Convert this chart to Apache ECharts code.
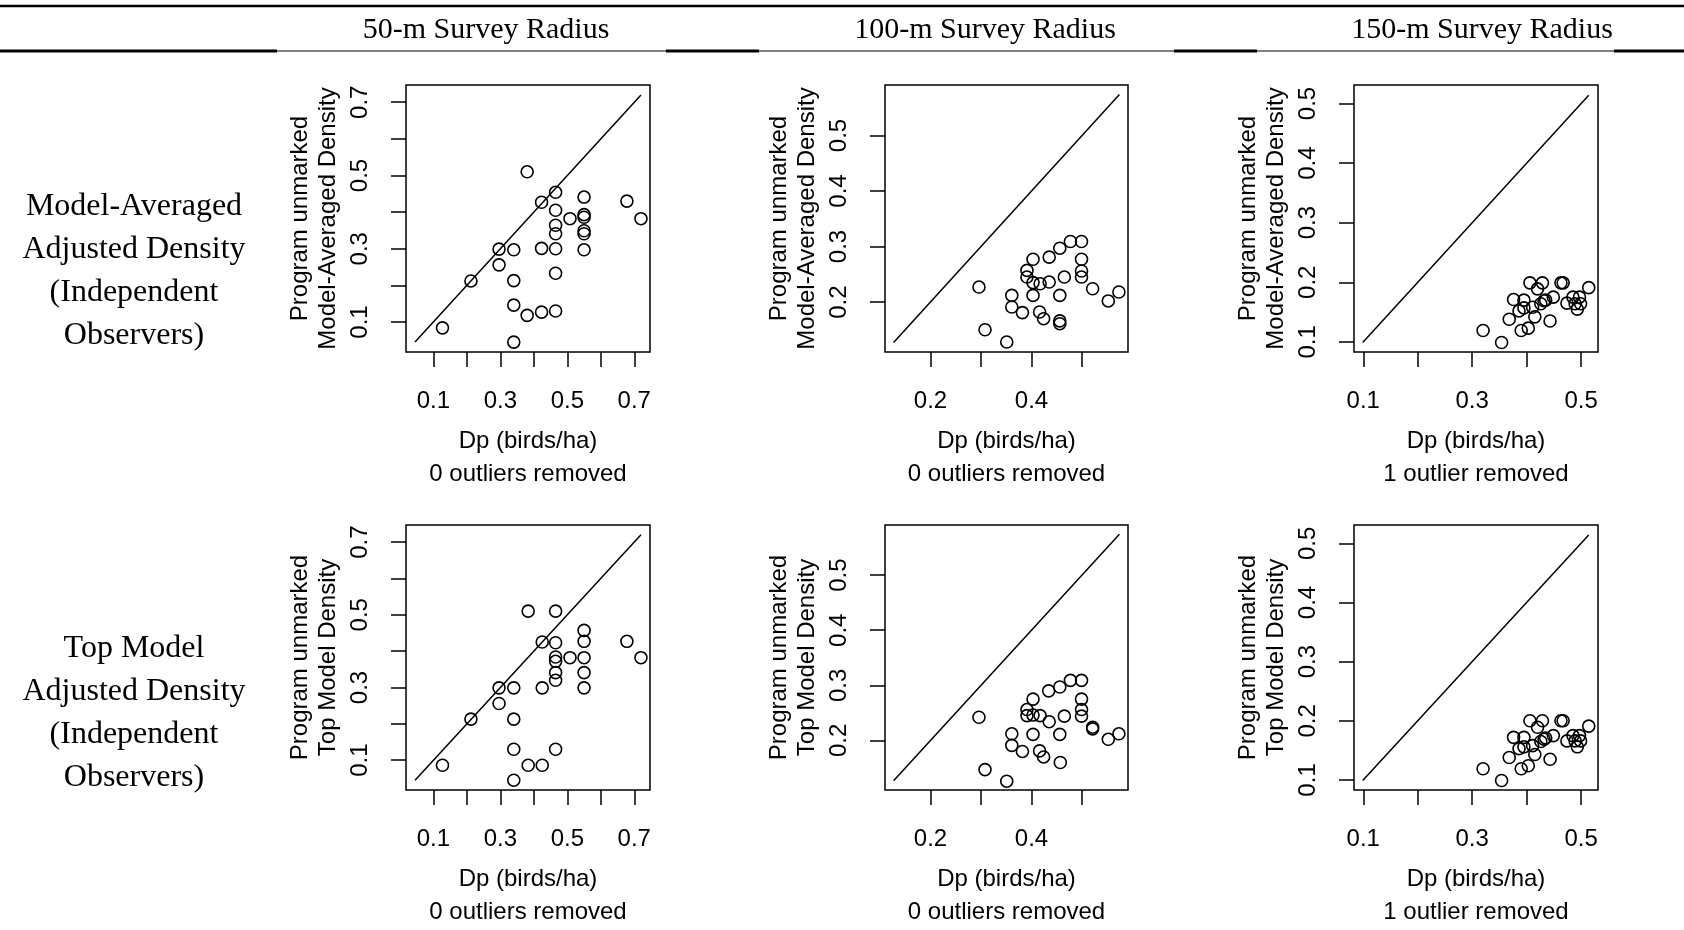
<!DOCTYPE html>
<html>
<head>
<meta charset="utf-8">
<script src="https://cdn.jsdelivr.net/npm/echarts@6/dist/echarts.min.js"></script>
<style>
html,body{margin:0;padding:0;background:#fff;}
#chart{width:1684px;height:930px;}
</style>
</head>
<body>
<div id="chart"></div>
<script>
// ---------- texts ----------
var columnTitles = ['50-m Survey Radius', '100-m Survey Radius', '150-m Survey Radius'];
var rowTitles = ['Model-Averaged\nAdjusted Density\n(Independent\nObservers)', 'Top Model\nAdjusted Density\n(Independent\nObservers)'];
var yTitles = ['Program unmarked\nModel-Averaged Density', 'Program unmarked\nTop Model Density'];
var xTitle = 'Dp (birds/ha)';
var outlierNotes = ['0 outliers removed', '0 outliers removed', '1 outlier removed'];

// ---------- axis ranges, ticks and tick labels per column ----------
var axisRange50 = [0.018, 0.747];
var axisRange100 = [0.110, 0.591];
var axisRange150 = [0.083, 0.531];
var ticks50 = [0.1, 0.2, 0.3, 0.4, 0.5, 0.6, 0.7];
var ticks100 = [0.2, 0.3, 0.4, 0.5];
var ticks150 = [0.1, 0.2, 0.3, 0.4, 0.5];
var xLabels50 = [0.1, 0.3, 0.5, 0.7];
var yLabels50 = [0.1, 0.3, 0.5, 0.7];
var xLabels100 = [0.2, 0.4];
var yLabels100 = [0.2, 0.3, 0.4, 0.5];
var xLabels150 = [0.1, 0.3, 0.5];
var yLabels150 = [0.1, 0.2, 0.3, 0.4, 0.5];

// ---------- 1:1 reference line ends ----------
var oneToOne50 = [0.045, 0.72];
var oneToOne100 = [0.127, 0.574];
var oneToOne150 = [0.099, 0.514];

// ---------- data: Model-Averaged (top row) ----------
var ma50x = [0.127,0.212,0.296,0.296,0.34,0.34,0.34,0.34,0.38,0.38,0.423,0.423,0.423,0.465,0.465,0.465,0.465,0.465,0.465,0.465,0.508,0.55,0.55,0.55,0.55,0.55,0.55,0.678,0.72];
var ma50y = [0.084,0.212,0.299,0.256,0.297,0.213,0.146,0.045,0.118,0.51,0.127,0.301,0.427,0.454,0.405,0.364,0.341,0.30,0.233,0.130,0.382,0.441,0.393,0.386,0.349,0.341,0.297,0.43,0.382];

var ma100x = [0.296,0.308,0.351,0.361,0.361,0.382,0.391,0.391,0.403,0.403,0.403,0.417,0.416,0.424,0.435,0.435,0.456,0.456,0.456,0.456,0.465,0.477,0.499,0.499,0.499,0.499,0.521,0.552,0.573];
var ma100y = [0.227,0.150,0.128,0.212,0.191,0.181,0.257,0.245,0.277,0.235,0.212,0.233,0.182,0.170,0.281,0.236,0.297,0.212,0.166,0.161,0.245,0.309,0.309,0.277,0.256,0.245,0.224,0.202,0.218];

var ma150x = [0.320,0.354,0.368,0.376,0.386,0.390,0.395,0.395,0.403,0.406,0.411,0.415,0.420,0.426,0.429,0.432,0.435,0.443,0.449,0.463,0.467,0.474,0.485,0.489,0.493,0.497,0.499,0.514];
var ma150y = [0.119,0.099,0.138,0.171,0.152,0.119,0.170,0.157,0.123,0.199,0.158,0.142,0.189,0.164,0.199,0.169,0.170,0.135,0.175,0.199,0.199,0.165,0.175,0.164,0.155,0.175,0.164,0.191];

// ---------- data: Top Model (bottom row) ----------
var tm50x = [0.127,0.212,0.296,0.296,0.34,0.34,0.34,0.34,0.383,0.383,0.425,0.425,0.425,0.465,0.465,0.465,0.465,0.465,0.465,0.465,0.508,0.55,0.55,0.55,0.55,0.55,0.678,0.72];
var tm50y = [0.086,0.213,0.299,0.256,0.299,0.213,0.130,0.045,0.086,0.51,0.086,0.299,0.425,0.51,0.423,0.384,0.372,0.341,0.32,0.130,0.382,0.457,0.427,0.382,0.341,0.299,0.427,0.382];

var tm100x = [0.296,0.308,0.351,0.361,0.361,0.382,0.391,0.391,0.403,0.403,0.403,0.417,0.416,0.424,0.434,0.435,0.456,0.456,0.457,0.465,0.477,0.499,0.499,0.499,0.499,0.521,0.521,0.552,0.573];
var tm100y = [0.242,0.147,0.126,0.212,0.191,0.180,0.256,0.245,0.275,0.246,0.211,0.245,0.181,0.170,0.290,0.234,0.297,0.211,0.160,0.244,0.309,0.309,0.275,0.256,0.244,0.224,0.221,0.202,0.212];

var tm150x = [0.320,0.354,0.368,0.376,0.386,0.390,0.395,0.395,0.403,0.406,0.411,0.415,0.420,0.426,0.429,0.432,0.435,0.443,0.449,0.463,0.467,0.474,0.485,0.489,0.493,0.497,0.499,0.514];
var tm150y = [0.119,0.099,0.138,0.172,0.153,0.119,0.172,0.156,0.124,0.200,0.158,0.143,0.189,0.165,0.200,0.169,0.171,0.135,0.175,0.200,0.200,0.166,0.175,0.166,0.156,0.175,0.166,0.191];

// ---------- build ----------
var SANS = '"Liberation Sans", Arial, sans-serif';
var SERIF = '"Liberation Serif", "Times New Roman", serif';

var panels = [
  {xs: ma50x, ys: ma50y, range: axisRange50, ticks: ticks50, xl: xLabels50, yl: yLabels50, line: oneToOne50, col: 0, row: 0},
  {xs: ma100x, ys: ma100y, range: axisRange100, ticks: ticks100, xl: xLabels100, yl: yLabels100, line: oneToOne100, col: 1, row: 0},
  {xs: ma150x, ys: ma150y, range: axisRange150, ticks: ticks150, xl: xLabels150, yl: yLabels150, line: oneToOne150, col: 2, row: 0},
  {xs: tm50x, ys: tm50y, range: axisRange50, ticks: ticks50, xl: xLabels50, yl: yLabels50, line: oneToOne50, col: 0, row: 1},
  {xs: tm100x, ys: tm100y, range: axisRange100, ticks: ticks100, xl: xLabels100, yl: yLabels100, line: oneToOne100, col: 1, row: 1},
  {xs: tm150x, ys: tm150y, range: axisRange150, ticks: ticks150, xl: xLabels150, yl: yLabels150, line: oneToOne150, col: 2, row: 1}
];

var gridLeft = [406, 885, 1354];
var gridWidth = [244, 243, 244];
var gridTop = [85, 525];
var gridHeight = [267, 268];

var grids = [], xAxes = [], yAxes = [], series = [];
panels.forEach(function (p, i) {
  grids.push({
    left: gridLeft[p.col], top: gridTop[p.row],
    width: gridWidth[p.col], height: gridHeight[p.row],
    show: true, borderColor: '#000', borderWidth: 1.5, backgroundColor: 'transparent',
    containLabel: false
  });
  var fmt = function (v) { return (Math.round(v * 10) / 10).toFixed(1); };
  xAxes.push({
    type: 'value', gridIndex: i, min: p.range[0], max: p.range[1],
    axisLine: {show: false},
    splitLine: {show: false},
    axisTick: {show: true, length: 15, inside: false, customValues: p.ticks, lineStyle: {color: '#000', width: 1.5}},
    axisLabel: {show: true, customValues: p.xl, formatter: fmt, margin: 37,
      color: '#000', fontSize: 24, fontFamily: SANS},
    name: xTitle + '\n' + outlierNotes[p.col], nameLocation: 'middle', nameGap: 73,
    nameTextStyle: {color: '#000', fontSize: 24, fontFamily: SANS, lineHeight: 33}
  });
  yAxes.push({
    type: 'value', gridIndex: i, min: p.range[0], max: p.range[1],
    axisLine: {show: false},
    splitLine: {show: false},
    axisTick: {show: true, length: 15, inside: false, customValues: p.ticks, lineStyle: {color: '#000', width: 1.5}},
    axisLabel: {show: true, customValues: p.yl, formatter: fmt, rotate: 90, margin: 34,
      color: '#000', fontSize: 24, fontFamily: SANS},
    name: yTitles[p.row], nameLocation: 'middle', nameGap: 64, nameRotate: 90,
    nameTextStyle: {color: '#000', fontSize: 24, fontFamily: SANS, lineHeight: 28}
  });
  var pts = p.xs.map(function (x, k) { return [x, p.ys[k]]; });
  series.push({
    type: 'line', xAxisIndex: i, yAxisIndex: i,
    data: [[p.line[0], p.line[0]], [p.line[1], p.line[1]]],
    showSymbol: false, symbol: 'none',
    lineStyle: {color: '#000', width: 1.5},
    silent: true, animation: false, z: 1
  });
  series.push({
    type: 'scatter', xAxisIndex: i, yAxisIndex: i, data: pts,
    symbol: 'circle', symbolSize: 12,
    itemStyle: {color: 'rgba(0,0,0,0)', borderColor: '#000', borderWidth: 1.6, opacity: 1},
    silent: true, animation: false, z: 3
  });
});

var graphics = [];
// header rules
graphics.push({type: 'line', shape: {x1: 0, y1: 6, x2: 1684, y2: 6}, style: {stroke: '#000', lineWidth: 2.5}});
graphics.push({type: 'line', shape: {x1: 0, y1: 51, x2: 1684, y2: 51}, style: {stroke: '#000', lineWidth: 1}});
[[0, 277], [666, 759], [1174, 1257], [1614, 1684]].forEach(function (s) {
  graphics.push({type: 'line', shape: {x1: s[0], y1: 51, x2: s[1], y2: 51}, style: {stroke: '#000', lineWidth: 3}});
});
var headerX = [486, 985, 1482];
columnTitles.forEach(function (t, i) {
  graphics.push({type: 'text', x: headerX[i], y: 30,
    style: {text: t, fill: '#000', font: '30px ' + SERIF, textAlign: 'center', textVerticalAlign: 'middle'}});
});
var rowY = [271, 713];
rowTitles.forEach(function (t, i) {
  graphics.push({type: 'text', x: 134, y: rowY[i],
    style: {text: t, fill: '#000', font: '32px ' + SERIF, textAlign: 'center', textVerticalAlign: 'middle', lineHeight: 43}});
});

var chart = echarts.init(document.getElementById('chart'), null, {renderer: 'canvas'});
chart.setOption({
  backgroundColor: '#fff',
  animation: false,
  grid: grids,
  xAxis: xAxes,
  yAxis: yAxes,
  series: series,
  graphic: graphics
});
</script>
</body>
</html>
